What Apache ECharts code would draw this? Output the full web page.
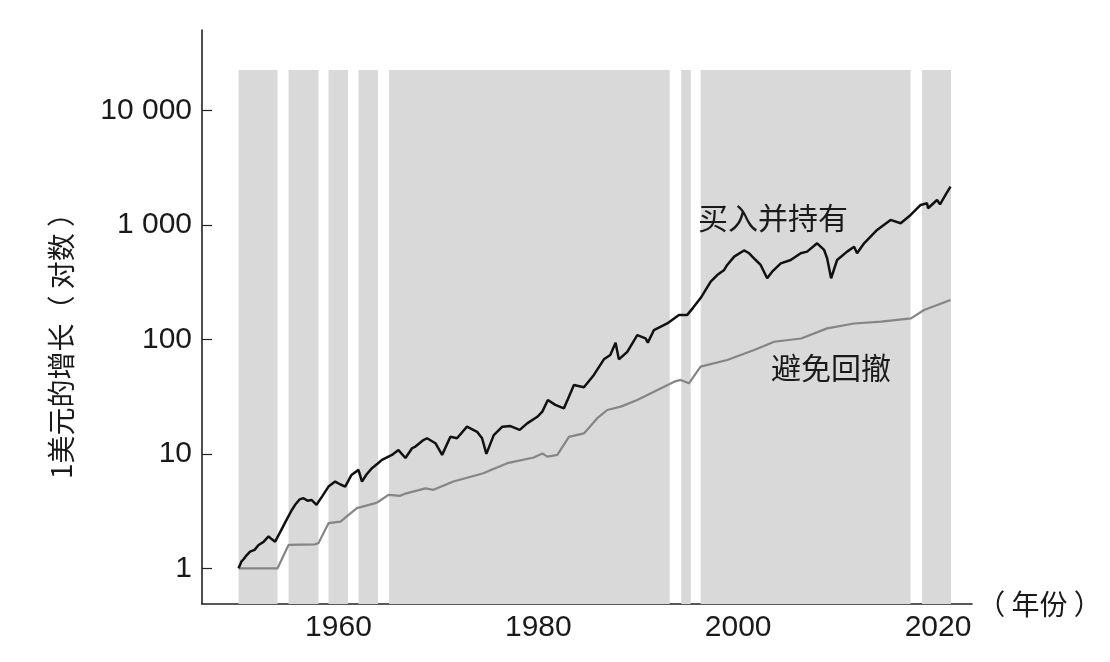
<!DOCTYPE html>
<html>
<head>
<meta charset="utf-8">
<script src="https://cdn.jsdelivr.net/npm/echarts@6/dist/echarts.min.js"></script>
<style>
html,body{margin:0;padding:0;background:#fff;}
#chart{width:1110px;height:662px;}
</style>
</head>
<body>
<div id="chart"></div>
<script>
// ---- data ----
var buyHoldYears = [1950.0,1950.3,1950.5,1950.8,1951.15,1951.6,1952.0,1952.5,1953.0,1953.3,1953.66,1954.2,1954.8,1955.3,1955.66,1956.1,1956.5,1956.9,1957.3,1957.8,1958.4,1959.0,1959.67,1960.2,1960.67,1961.3,1962.0,1962.35,1962.8,1963.35,1963.9,1964.35,1965.35,1966.0,1966.7,1967.36,1967.7,1968.5,1968.86,1969.7,1970.37,1971.2,1971.86,1972.86,1973.87,1974.37,1974.8,1975.54,1976.4,1977.2,1978.14,1978.88,1979.9,1980.4,1980.95,1981.7,1982.56,1983.06,1983.56,1984.56,1985.56,1986.56,1987.2,1987.73,1988.06,1988.9,1989.9,1990.73,1990.96,1991.57,1992.9,1994.07,1994.9,1995.5,1996.24,1997.25,1997.9,1998.6,1998.9,1999.6,2000.58,2001.1,2001.75,2002.25,2002.9,2003.4,2004.26,2005.26,2006.26,2006.9,2007.9,2008.6,2008.9,2009.3,2009.9,2010.9,2011.6,2011.9,2012.6,2013.9,2015.25,2016.26,2017.26,2018.26,2018.9,2019.0,2019.9,2020.2,2020.75,2021.25];
var buyHoldValues = [1.0,1.15,1.2,1.3,1.40,1.45,1.60,1.7,1.90,1.8,1.71,2.1,2.65,3.2,3.59,4.0,4.1,3.9,3.96,3.59,4.3,5.18,5.73,5.4,5.18,6.55,7.25,5.73,6.6,7.5,8.2,8.87,9.8,10.8,9.2,11.2,11.6,13.2,13.7,12.4,9.8,14.1,13.7,17.3,15.6,13.7,10.0,14.6,17.3,17.5,16.2,18.5,21.1,23.4,29.6,26.8,25.0,31.6,40,38.2,49,67.1,73.2,93.8,67,78,109,102.4,93.8,121,138,164,164,190,230,320,366,405,448,530,600,567,495,448,343,391,463,495,567,586,693,606,513,343,495,586,647,567,693,906,1109,1038,1225,1500,1550,1403,1656,1520,1833,2168];

var avoidYears = [1950.0,1953.9,1955.0,1957.66,1958.0,1959.0,1960.2,1960.95,1961.85,1962.0,1963.7,1963.95,1965.0,1966.18,1966.7,1968.7,1969.5,1971.5,1974.5,1975.2,1976.9,1979.54,1980.4,1980.9,1981.9,1983.06,1984.56,1985.9,1986.9,1988.25,1989.9,1991.57,1993.6,1994.24,1995.07,1995.25,1996.24,1998.9,2001.6,2003.6,2006.3,2008.9,2011.6,2014.3,2017.3,2018.6,2021.25];
var avoidValues = [1.0,1.0,1.6,1.62,1.66,2.48,2.56,2.9,3.36,3.4,3.71,3.8,4.39,4.3,4.5,5.0,4.85,5.73,6.78,7.2,8.3,9.3,10.1,9.45,9.8,14.1,15.1,20.5,24.2,25.9,29.6,35,42.8,44.3,41.4,42,57.9,66.2,81,95.5,102,125,138,143,153,181,221];

// shaded periods (start year, end year)
var bandStarts = [1950.0,1955.0,1959.0,1962.0,1965.05,1994.3,1996.25,2018.4];
var bandEnds   = [1953.9,1958.0,1960.95,1963.95,1993.15,1995.25,2017.25,2021.3];
var bandTop = 22700;

var yTickValues = [1,10,100,1000,10000];
var xTickValues = [1960,1980,2000,2020];

var seriesNames = ['买入并持有','避免回撤'];
var yAxisName = '1美元的增长（ 对数 ）';
var xAxisName = '（ 年份 ）';

// ---- build ----
function zip(a,b){var r=[];for(var i=0;i<a.length;i++)r.push([a[i],b[i]]);return r;}
var yMin = 0.4875, yMax = 50700;
var bands = [];
for (var i=0;i<bandStarts.length;i++){
  bands.push([{xAxis:bandStarts[i], yAxis:yMin},{xAxis:bandEnds[i], yAxis:bandTop}]);
}
function fmt(v){return String(Math.round(v)).replace(/\B(?=(\d{3})+(?!\d))/g,' ');}

var chart = echarts.init(document.getElementById('chart'), null, {renderer:'canvas'});
var labelFont = {fontFamily:'Liberation Sans, Arial, sans-serif', fontSize:30, color:'#1a1a1a'};
var cjk = '"Noto Sans CJK SC", sans-serif';
chart.setOption({
  animation:false,
  backgroundColor:'#fff',
  grid:{left:202, right:138, top:30, bottom:58, containLabel:false},
  xAxis:{
    type:'value', min:1946.34, max:2023.4,
    name:xAxisName, nameLocation:'end', nameGap:3,
    nameTextStyle:{fontFamily:cjk, fontSize:28, color:'#1a1a1a', verticalAlign:'middle', padding:[4,0,0,0]},
    axisLine:{show:true, lineStyle:{color:'#222', width:1.6}},
    axisTick:{show:true, inside:true, length:10, lineStyle:{color:'#222', width:1.2}, customValues:xTickValues},
    axisLabel:Object.assign({margin:9, customValues:xTickValues, formatter:function(v){return String(v);}}, labelFont),
    splitLine:{show:false}
  },
  yAxis:{
    type:'log', logBase:10, min:yMin, max:yMax,
    axisLine:{show:true, lineStyle:{color:'#222', width:1.6}},
    axisTick:{show:true, inside:true, length:10, lineStyle:{color:'#222', width:1.2}, customValues:yTickValues},
    axisLabel:Object.assign({margin:10, customValues:yTickValues, formatter:function(v){return fmt(v);}}, labelFont),
    minorTick:{show:false},
    splitLine:{show:false}
  },
  series:[
    {
      type:'line', name:'bands', data:[], z:1, silent:true,
      markArea:{silent:true, itemStyle:{color:'#d9d9d9'}, data:bands}
    },
    {
      type:'line', name:seriesNames[1], data:zip(avoidYears,avoidValues), z:3,
      showSymbol:false, symbol:'none', lineStyle:{color:'#858585', width:2.2}
    },
    {
      type:'line', name:seriesNames[0], data:zip(buyHoldYears,buyHoldValues), z:4,
      showSymbol:false, symbol:'none', lineStyle:{color:'#111', width:2.5}
    }
  ],
  graphic:[
    {type:'text', z:100, left:698, top:203, style:{text:seriesNames[0], font:'30px '+cjk, fill:'#1a1a1a'}},
    {type:'text', z:100, left:771, top:353, style:{text:seriesNames[1], font:'30px '+cjk, fill:'#1a1a1a'}},
    {type:'text', z:100, x:61, y:339, rotation:Math.PI/2,
     style:{text:yAxisName, font:'28px '+cjk, fill:'#1a1a1a', textAlign:'center', textVerticalAlign:'middle'}}
  ]
});
</script>
</body>
</html>
